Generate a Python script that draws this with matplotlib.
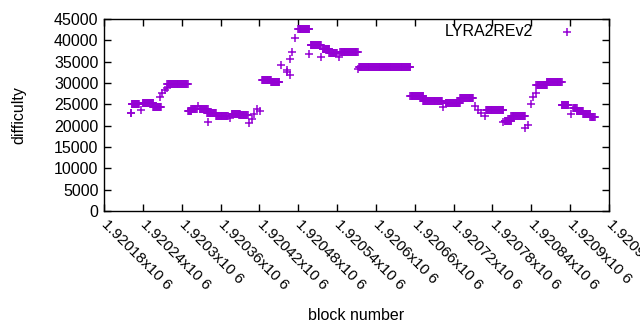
import numpy as np
import matplotlib
matplotlib.use("Agg")
import matplotlib.pyplot as plt
from matplotlib.ticker import FixedLocator

plt.rcParams['font.family'] = ['Liberation Sans', 'DejaVu Sans']

# runs of blocks (start, end inclusive) and difficulty value
block_start = [1920221, 1920223, 1920237, 1920240, 1920256, 1920267, 1920270, 1920274, 1920277,
               1920278, 1920310, 1920315, 1920325, 1920328, 1920341, 1920339, 1920353, 1920374,
               1920377, 1920389, 1920404, 1920408, 1920411, 1920416, 1920421, 1920424, 1920438,
               1920454, 1920462, 1920463, 1920467, 1920468, 1920470, 1920475, 1920480, 1920497,
               1920499, 1920515, 1920518, 1920528, 1920543, 1920545, 1920572, 1920574, 1920653,
               1920673, 1920704, 1920708, 1920730, 1920753, 1920758, 1920763, 1920768, 1920770,
               1920797, 1920799, 1920809, 1920830, 1920835, 1920839, 1920843, 1920847, 1920848,
               1920864, 1920887, 1920901, 1920905, 1920910, 1920920, 1920931]
block_end   = [1920222, 1920234, 1920237, 1920256, 1920268, 1920267, 1920270, 1920274, 1920277,
               1920309, 1920315, 1920323, 1920325, 1920340, 1920341, 1920353, 1920371, 1920374,
               1920390, 1920402, 1920404, 1920408, 1920411, 1920416, 1920421, 1920438, 1920451,
               1920454, 1920462, 1920463, 1920467, 1920468, 1920470, 1920475, 1920497, 1920497,
               1920515, 1920515, 1920528, 1920540, 1920543, 1920572, 1920572, 1920653, 1920673,
               1920702, 1920704, 1920730, 1920750, 1920753, 1920758, 1920763, 1920768, 1920797,
               1920797, 1920809, 1920830, 1920830, 1920835, 1920839, 1920843, 1920847, 1920864,
               1920887, 1920897, 1920901, 1920910, 1920920, 1920931, 1920938]
difficulty  = [22900, 25000, 23670, 25300, 24300, 26650, 27580, 28360, 28900,
               29700, 23440, 23980, 24600, 23830, 20930, 23040, 22260, 21720,
               22730, 22430, 20550, 21490, 22730, 23830, 23440, 30700, 30230,
               34220, 33050, 32650, 31870, 35550, 37340, 40470, 42580, 36800,
               38900, 36160, 37900, 37100, 36160, 37200, 33200, 33820, 26950,
               25780, 24450, 25230, 26400, 24600, 23670, 23040, 22260, 23670,
               20930, 21090, 22260, 19380, 20150, 25000, 26650, 27580, 29530,
               30160, 24840, 22730, 24070, 23440, 22730, 22100]

x_ticks = [1920180 + 60 * i for i in range(14)]
x_tick_labels = ["%gx10 6" % (t / 1e6) for t in x_ticks]
y_ticks = list(range(0, 45001, 5000))
series_name = 'LYRA2REv2'

blocks = []
values = []
for s, e, d in zip(block_start, block_end, difficulty):
    for b in range(s, e + 1):
        blocks.append(b)
        values.append(d)

FS = 11.5
fig = plt.figure(figsize=(6.4, 3.3), dpi=100)
ax = fig.add_axes([104/640, 1 - 211/330, (609-104)/640, (211-19)/330])
color = '#9400d3'
ax.plot(blocks, values, linestyle='none', marker='+', ms=6, mew=1.1, color=color)

ax.set_xlim(1920180, 1920960)
ax.set_ylim(0, 45000)
ax.xaxis.set_major_locator(FixedLocator(x_ticks))
ax.set_xticklabels(x_tick_labels, rotation=-45, ha='left', va='center', rotation_mode='anchor', fontsize=11)
ax.set_yticks(y_ticks)
ax.set_yticklabels([str(v) for v in y_ticks], fontsize=FS)
ax.tick_params(direction='in', length=5, width=1, top=True, right=True, pad=4)
ax.tick_params(axis='x', pad=8)
for sp in ax.spines.values():
    sp.set_linewidth(1)
ax.set_xlabel('block number', fontsize=FS, labelpad=11)
ax.set_ylabel('difficulty', fontsize=FS, labelpad=20)

# legend (gnuplot style: text then marker)
ax.text((533-104)/505, (211-32)/192, series_name, transform=ax.transAxes, ha='right', va='center', fontsize=FS)
ax.plot([(567-104)/505], [(211-32)/192], transform=ax.transAxes, linestyle='none', marker='+',
        ms=6, mew=1.1, color=color, clip_on=False)
fig.savefig('out.png', dpi=100)
